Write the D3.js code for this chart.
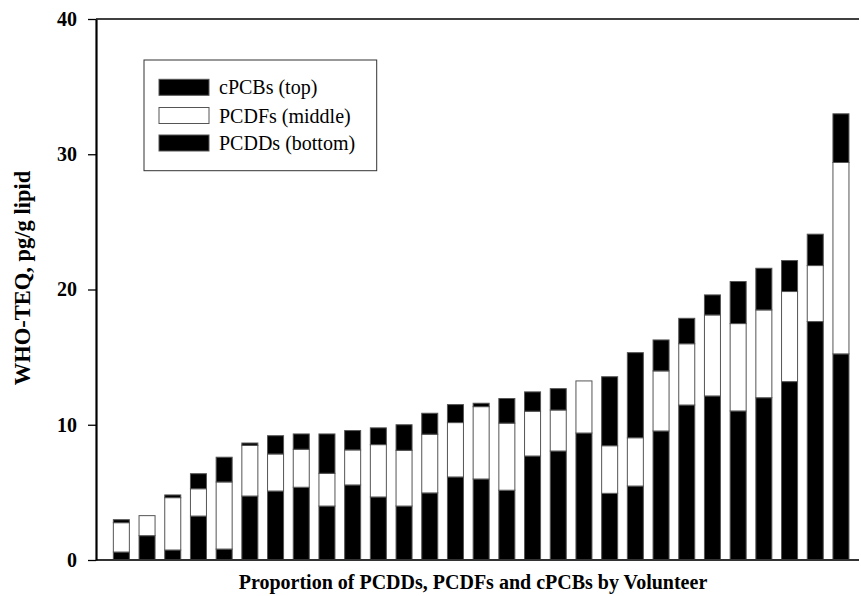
<!DOCTYPE html>
<html>
<head>
<meta charset="utf-8">
<script src="https://cdn.jsdelivr.net/npm/d3@7"></script>
<style>
  body { margin: 0; background: #fff; }
  svg { display: block; }
  text { font-family: "Liberation Serif", "DejaVu Serif", serif; }
</style>
</head>
<body>
<svg id="chart" width="861" height="596"></svg>
<script>
// Values (pg/g lipid), one entry per volunteer
const volunteers = d3.range(1, 30).map(String);
const pcdds = [0.59, 1.80, 0.74, 3.25, 0.81, 4.73, 5.10, 5.38, 3.99, 5.55, 4.66, 3.99, 4.96, 6.14, 5.99,
               5.16, 7.69, 8.06, 9.39, 4.93, 5.47, 9.54, 11.46, 12.13, 11.02, 12.00, 13.19, 17.63, 15.24];
const pcdfs = [2.17, 1.48, 3.87, 2.02, 4.96, 3.75, 2.74, 2.81, 2.42, 2.59, 3.87, 4.12, 4.34, 4.02, 5.35,
               4.96, 3.31, 3.03, 3.85, 3.52, 3.57, 4.44, 4.53, 5.99, 6.46, 6.49, 6.66, 4.14, 14.15];
const cpcbs = [0.22, 0, 0.20, 1.11, 1.83, 0.17, 1.35, 1.13, 2.91, 1.43, 1.24, 1.89, 1.55, 1.33, 0.25,
               1.82, 1.43, 1.58, 0, 5.10, 6.29, 2.29, 1.88, 1.48, 3.11, 3.08, 2.29, 2.32, 3.60];
const yTicks = [0, 10, 20, 30, 40];

const seriesKeys = ["pcdd", "pcdf", "cpcb"];
const fills = { pcdd: "#000", pcdf: "#fff", cpcb: "#000" };
const legendItems = [
  { key: "cpcb", label: "cPCBs (top)" },
  { key: "pcdf", label: "PCDFs (middle)" },
  { key: "pcdd", label: "PCDDs (bottom)" }
];

const rows = volunteers.map((v, i) => ({ v, pcdd: pcdds[i], pcdf: pcdfs[i], cpcb: cpcbs[i] }));

const svg = d3.select("#chart");
const serif = "Liberation Serif, DejaVu Serif, serif";

// plot frame
const plotLeft = 96, plotRight = 859, plotTop = 19, plotBottom = 560;

const x = d3.scaleBand()
  .domain(volunteers)
  .range([108.5, 853.8])
  .paddingInner(0.377)
  .paddingOuter(0.1885);

const y = d3.scaleLinear().domain([0, 40]).range([plotBottom, plotTop]);

const stacked = d3.stack().keys(seriesKeys)(rows);

// bars
svg.append("g")
  .selectAll("g")
  .data(stacked)
  .join("g")
  .attr("fill", d => fills[d.key])
  .selectAll("rect")
  .data(d => d.filter(s => s[1] - s[0] > 0))
  .join("rect")
  .attr("x", d => x(d.data.v))
  .attr("y", d => y(d[1]))
  .attr("width", x.bandwidth())
  .attr("height", d => y(d[0]) - y(d[1]))
  .attr("stroke", "#555")
  .attr("stroke-width", 1);

// top frame line
svg.append("line")
  .attr("x1", plotLeft).attr("x2", plotRight)
  .attr("y1", plotTop).attr("y2", plotTop)
  .attr("stroke", "#000").attr("stroke-width", 1.5);

// x axis line
svg.append("line")
  .attr("x1", plotLeft).attr("x2", plotRight)
  .attr("y1", plotBottom).attr("y2", plotBottom)
  .attr("stroke", "#333").attr("stroke-width", 2);

// y axis
const yAxis = svg.append("g")
  .attr("transform", `translate(${plotLeft},0)`)
  .call(d3.axisLeft(y).tickValues(yTicks).tickSize(8).tickPadding(11).tickSizeOuter(0));
yAxis.select(".domain").attr("stroke", "#000").attr("stroke-width", 2.2);
yAxis.selectAll(".tick line").attr("stroke", "#000").attr("stroke-width", 1.3);
yAxis.selectAll(".tick text")
  .attr("font-family", serif)
  .attr("font-size", 20)
  .attr("font-weight", "bold")
  .attr("fill", "#000");

// axis titles
svg.append("text")
  .attr("x", 473).attr("y", 589)
  .attr("text-anchor", "middle")
  .attr("font-family", serif)
  .attr("font-size", 20)
  .attr("font-weight", "bold")
  .text("Proportion of PCDDs, PCDFs and cPCBs by Volunteer");

svg.append("text")
  .attr("transform", "translate(30,278) rotate(-90)")
  .attr("text-anchor", "middle")
  .attr("font-family", serif)
  .attr("font-size", 22.5)
  .attr("font-weight", "bold")
  .text("WHO-TEQ, pg/g lipid");

// legend
const legend = svg.append("g");
legend.append("rect")
  .attr("x", 144).attr("y", 60)
  .attr("width", 232.7).attr("height", 110.7)
  .attr("fill", "#fff").attr("stroke", "#333").attr("stroke-width", 1);

const rowY = [79.3, 107.5, 135];
legendItems.forEach((item, i) => {
  legend.append("rect")
    .attr("x", 159).attr("y", rowY[i])
    .attr("width", 50).attr("height", 16)
    .attr("fill", fills[item.key])
    .attr("stroke", "#555").attr("stroke-width", 1);
  legend.append("text")
    .attr("x", 219).attr("y", rowY[i] + 15)
    .attr("font-family", serif)
    .attr("font-size", 20)
    .attr("fill", "#000")
    .text(item.label);
});
</script>
</body>
</html>
